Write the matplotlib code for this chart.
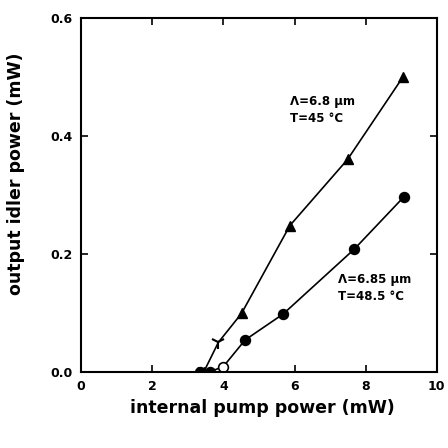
import matplotlib
matplotlib.use("Agg")
import matplotlib.pyplot as plt

# Data
tri_x = [3.30, 3.45, 3.86, 4.51, 5.87, 7.49, 9.05]
tri_y = [0.000, 0.000, 0.050, 0.099, 0.248, 0.360, 0.500]
circ_x = [3.35, 3.62, 4.00, 4.61, 5.68, 7.68, 9.08]
circ_y = [0.000, 0.000, 0.009, 0.054, 0.098, 0.208, 0.297]
circ_open = [False, False, True, False, False, False, False]

x_ticks = [0, 2, 4, 6, 8, 10]
y_ticks = [0.0, 0.2, 0.4, 0.6]

fig = plt.figure(figsize=(4.48, 4.48), dpi=100)
ax = fig.add_axes([0.181, 0.170, 0.794, 0.790])

ax.plot(tri_x, tri_y, color="black", lw=1.2)
ax.plot([x for i, x in enumerate(tri_x) if i != 2], [y for i, y in enumerate(tri_y) if i != 2],
        ls="none", marker="^", ms=7, color="black")
ax.plot([tri_x[2]], [tri_y[2]], ls="none", marker="1", ms=10, mew=1.5, color="black")

ax.plot(circ_x, circ_y, color="black", lw=1.2)
for x, y, o in zip(circ_x, circ_y, circ_open):
    ax.plot([x], [y], ls="none", marker="o", ms=7, color="black",
            mfc="white" if o else "black", mew=1.2)

ax.text(5.87, 0.470, "Λ=6.8 μm\nT=45 °C", fontsize=8.5, fontweight="bold",
        va="top", ha="left", linespacing=1.4)
ax.text(7.22, 0.168, "Λ=6.85 μm\nT=48.5 °C", fontsize=8.5, fontweight="bold",
        va="top", ha="left", linespacing=1.4)

ax.set_xlim(0, 10)
ax.set_ylim(0, 0.6)
ax.set_xticks(x_ticks)
ax.set_yticks(y_ticks)
ax.set_xticklabels([str(t) for t in x_ticks], fontweight="bold", fontsize=9)
ax.set_yticklabels([f"{t:.1f}" for t in y_ticks], fontweight="bold", fontsize=9)
ax.tick_params(direction="in", top=True, right=True, length=5, width=1.2, pad=6)
for s in ax.spines.values():
    s.set_linewidth(1.5)

ax.set_xlabel("internal pump power (mW)", fontweight="bold", fontsize=12.5)
ax.xaxis.set_label_coords(0.51, -0.078)
ax.set_ylabel("output idler power (mW)", fontweight="bold", fontsize=12.5)
ax.yaxis.set_label_coords(-0.158, 0.56)

fig.savefig("out.png", dpi=100)
